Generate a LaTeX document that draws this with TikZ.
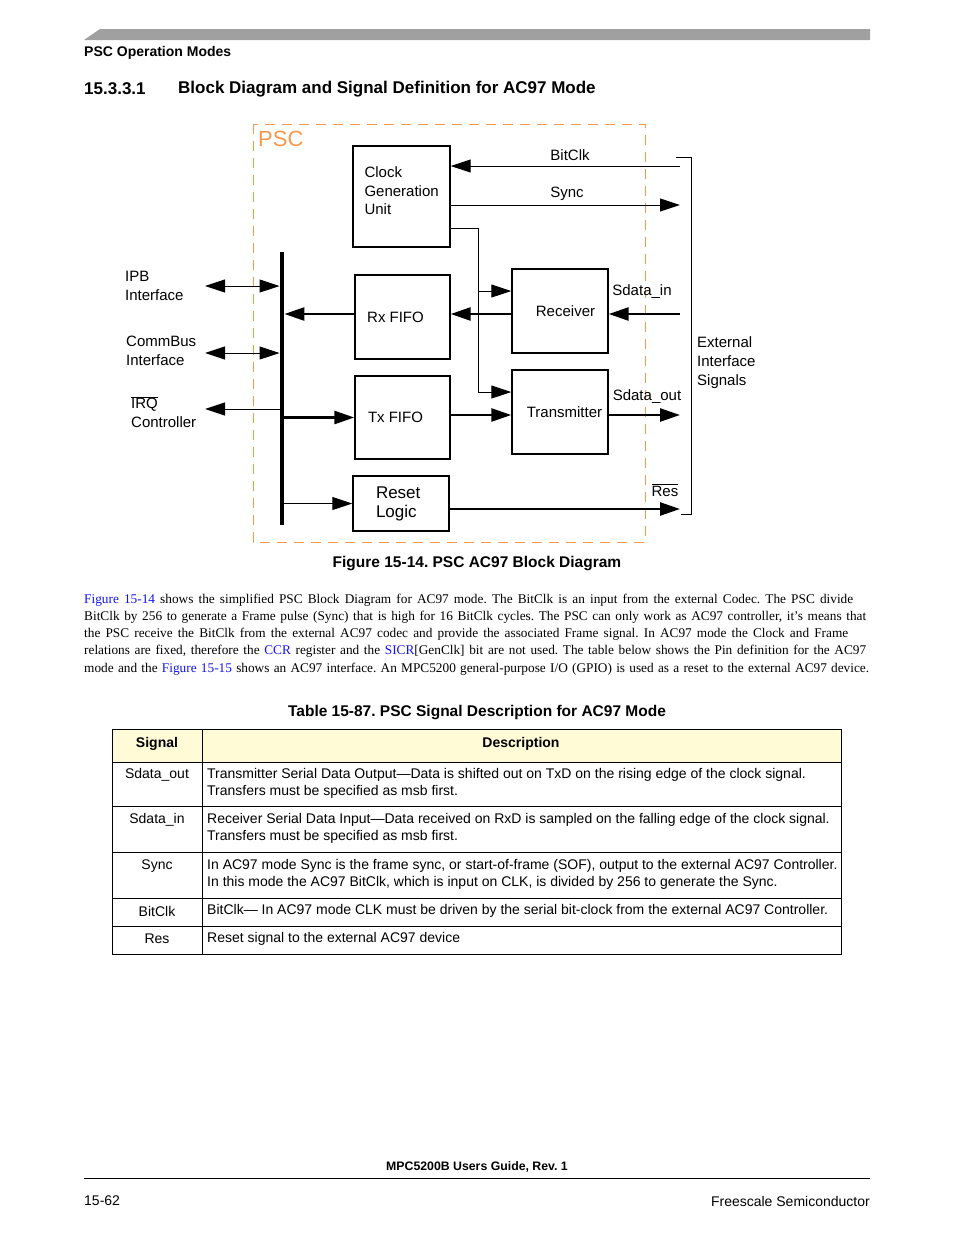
\documentclass[tikz,border=0pt]{standalone}
\usepackage{fontspec}
\setmainfont{Liberation Serif}
\setsansfont{Liberation Sans}
\usepackage{xcolor}
\definecolor{pscorange}{RGB}{247,152,76}
\definecolor{linkblue}{RGB}{20,20,235}
\definecolor{headbar}{RGB}{160,160,160}
\definecolor{tabhead}{RGB}{255,251,214}
\usetikzlibrary{arrows.meta,positioning,calc}

\begin{document}
\frenchspacing
\begin{tikzpicture}[x=1pt,y=-1pt,
  block/.style={rectangle, draw, line width=1.4pt, inner sep=0pt, font=\sffamily\fontsize{15}{18.5}\selectfont, align=center},
  sig/.style={font=\sffamily\fontsize{15}{19}\selectfont, inner sep=0pt, align=left},
  pipe/.style={-{Triangle[length=20pt,width=13pt]}, line width=2.6pt},
  wire/.style={-{Triangle[length=20pt,width=13pt]}, line width=1pt},
  both/.style={{Triangle[length=20pt,width=13pt]}-{Triangle[length=20pt,width=13pt]}, line width=1pt},
  page/.style={font=\sffamily\fontsize{14}{17}\selectfont, inner sep=0pt, align=left},
  head/.style={font=\sffamily\bfseries\fontsize{15.5}{18}\selectfont, inner sep=0pt},
  parline/.style={anchor=west, inner sep=0pt, font=\rmfamily\fontsize{13.3}{17.2}\selectfont}
]
  \fill[white] (0,0) rectangle (954,1235);
  \useasboundingbox (0,0) rectangle (954,1235);

  % Page header
  \fill[headbar] (84,40) -- (100,29) -- (870,29) -- (870,40) -- cycle;
  \node[head, font=\sffamily\bfseries\fontsize{14}{16}\selectfont, anchor=west] (runhead) at (84,53) {PSC Operation Modes};
  \node[head, font=\sffamily\bfseries\fontsize{17}{19}\selectfont, anchor=west] (secnum) at (84,89) {15.3.3.1};
  \node[head, font=\sffamily\bfseries\fontsize{17}{19}\selectfont, anchor=west] (sectitle) at (178,89) {Block Diagram and Signal Definition for AC97 Mode};

  % PSC frame
  \draw[pscorange, line width=1pt, dash pattern=on 10pt off 7pt] (253,124) rectangle (645,542);
  \node[anchor=west, inner sep=0pt, text=pscorange, font=\sffamily\fontsize{22}{24}\selectfont] (psc) at (258,139) {PSC};

  % Blocks
  \node[block, minimum width=97pt, minimum height=101pt, text width=74pt, inner xsep=11.5pt, align=left] (cgu) at (401.5,196.5) {Clock\\Generation\\Unit\\[-7pt]\mbox{}};
  \node[block, minimum width=95pt, minimum height=84pt] (rxf) at (402.5,317) {Rx FIFO\hspace*{14pt}};
  \node[block, minimum width=95pt, minimum height=83pt] (txf) at (402.5,417.5) {Tx FIFO\hspace*{14pt}};
  \node[block, minimum width=96pt, minimum height=84pt] (rcv) at (560,311) {\hspace*{11pt}Receiver};
  \node[block, minimum width=96pt, minimum height=84pt] (trx) at (560,412) {\hspace*{9pt}Transmitter};
  \node[block, minimum width=96pt, minimum height=55pt, text width=50pt, inner xsep=23pt, align=left, font=\sffamily\fontsize{17}{19}\selectfont] (rst) at (401,503.5) {Reset\\Logic};
  \node[fill, minimum width=4.5pt, minimum height=273pt, inner sep=0pt] (bus) at (282,388.5) {};

  % Signal ends
  \coordinate (bitclk) at (680,166);
  \coordinate (sync) at (680,205);
  \coordinate (sdin) at (680,314);
  \coordinate (sdout) at (680,415);
  \coordinate (res) at (680,509);
  \coordinate (ipb) at (205,286);
  \coordinate (cbus) at (205,353);
  \coordinate (irq) at (205,409);
  \coordinate (clkfork) at (478,228);
  \coordinate (clkrx) at (478,291);
  \coordinate (clktx) at (478,392);

  % Connections
  \draw[wire] (bitclk) -- (bitclk -| cgu.east);
  \draw[wire] (sync -| cgu.east) -- (sync);
  \draw[wire] (clkfork -| cgu.east) -- (clkfork) -- (clktx) -- (clktx -| trx.west);
  \draw[wire] (clkrx) -- (clkrx -| rcv.west);
  \draw[pipe] (sdin) -- (sdin -| rcv.east);
  \draw[pipe] (sdin -| rcv.west) -- (sdin -| rxf.east);
  \draw[pipe] (sdin -| rxf.west) -- (sdin -| bus.east);
  \draw[pipe] (bus.east |- txf.west) -- (txf.west);
  \draw[pipe] (sdout -| txf.east) -- (sdout -| trx.west);
  \draw[pipe] (sdout -| trx.east) -- (sdout);
  \draw[wire] (bus.east |- rst.west) -- (rst.west);
  \draw[pipe] (res -| rst.east) -- (res);
  \draw[both] (ipb) -- (ipb -| bus.west);
  \draw[both] (cbus) -- (cbus -| bus.west);
  \draw[wire] (irq -| bus.west) -- (irq);
  \draw[line width=1pt] (676,157) -- (691,157) -- (691,514) -- (681,514);

  % Labels
  \node[sig] (lbitclk) at (570,155) {BitClk};
  \node[sig] (lsync) at (567,194) {Sync};
  \node[sig] (lsdin) at (642,292) {Sdata\_in};
  \node[sig] (lsdout) at (647,397) {Sdata\_out};
  \node[sig] (lres) at (665,490) {$\overline{\hbox{Res}}$};
  \node[sig, anchor=west] (lext) at (697,363) {External\\Interface\\Signals};
  \node[sig, anchor=west] (lipb) at (125,285.5) {IPB\\Interface};
  \node[sig, anchor=west] (lcbus) at (126,351) {CommBus\\Interface};
  \node[sig, anchor=west] (lirq) at (131,412) {$\overline{\hbox{IRQ}}$\\Controller};

  % Caption and text
  \node[head] (figcap) at (477,564) {Figure 15-14. PSC AC97 Block Diagram};
  \node[parline] (par1) at (84,600) {\makebox[769pt][s]{\textcolor{linkblue}{Figure 15-14} shows the simplified PSC Block Diagram for AC97 mode. The BitClk is an input from the external Codec. The PSC divide}};
  \node[parline] (par2) at (84,617) {\makebox[782pt][s]{BitClk by 256 to generate a Frame pulse (Sync) that is high for 16 BitClk cycles. The PSC can only work as AC97 controller, it’s means that}};
  \node[parline] (par3) at (84,634) {\makebox[764pt][s]{the PSC receive the BitClk from the external AC97 codec and provide the associated Frame signal. In AC97 mode the Clock and Frame}};
  \node[parline] (par4) at (84,651) {\makebox[782pt][s]{relations are fixed, therefore the \textcolor{linkblue}{CCR} register and the \textcolor{linkblue}{SICR}[GenClk] bit are not used. The table below shows the Pin definition for the AC97}};
  \node[parline] (par5) at (84,669) {\makebox[785pt][s]{mode and the \textcolor{linkblue}{Figure 15-15} shows an AC97 interface. An MPC5200 general-purpose I/O (GPIO) is used as a reset to the external AC97 device.}};

  % Table
  \node[head] (tabcap) at (477,713) {Table 15-87. PSC Signal Description for AC97 Mode};
  \fill[tabhead] (112,729) rectangle (841,762);
  \draw[line width=0.9pt] (112,729) rectangle (841,954);
  \foreach \y in {762,806,852,898,926}
    \draw[line width=0.9pt] (112,\y) -- (841,\y);
  \draw[line width=0.9pt] (202,729) -- (202,954);
  \node[page, font=\sffamily\bfseries\fontsize{14}{17}\selectfont] (hsig) at (157,744) {Signal};
  \node[page, font=\sffamily\bfseries\fontsize{14}{17}\selectfont] (hdesc) at (521,744) {Description};
  \node[page] (s1) at (157,775) {Sdata\_out};
  \node[page] (s2) at (157,820) {Sdata\_in};
  \node[page] (s3) at (157,866) {Sync};
  \node[page] (s4) at (157,911) {BitClk};
  \node[page] (s5) at (157,939) {Res};
  \node[page, anchor=west] (d1) at (207,783) {Transmitter Serial Data Output—Data is shifted out on TxD on the rising edge of the clock signal.\\Transfers must be specified as msb first.};
  \node[page, anchor=west] (d2) at (207,828) {Receiver Serial Data Input—Data received on RxD is sampled on the falling edge of the clock signal.\\Transfers must be specified as msb first.};
  \node[page, anchor=west] (d3) at (207,874) {In AC97 mode Sync is the frame sync, or start-of-frame (SOF), output to the external AC97 Controller.\\In this mode the AC97 BitClk, which is input on CLK, is divided by 256 to generate the Sync.};
  \node[page, anchor=west] (d4) at (207,911) {BitClk— In AC97 mode CLK must be driven by the serial bit-clock from the external AC97 Controller.};
  \node[page, anchor=west] (d5) at (207,939) {Reset signal to the external AC97 device};

  % Page footer
  \node[head, font=\sffamily\bfseries\fontsize{12.3}{14}\selectfont] (foot) at (477,1167) {MPC5200B Users Guide, Rev. 1};
  \draw[line width=0.8pt] (84,1178) -- (870,1178);
  \node[page, anchor=west] (pgno) at (84,1201) {15-62};
  \node[page, anchor=east] (vendor) at (870,1201) {Freescale Semiconductor};
\end{tikzpicture}
\end{document}
